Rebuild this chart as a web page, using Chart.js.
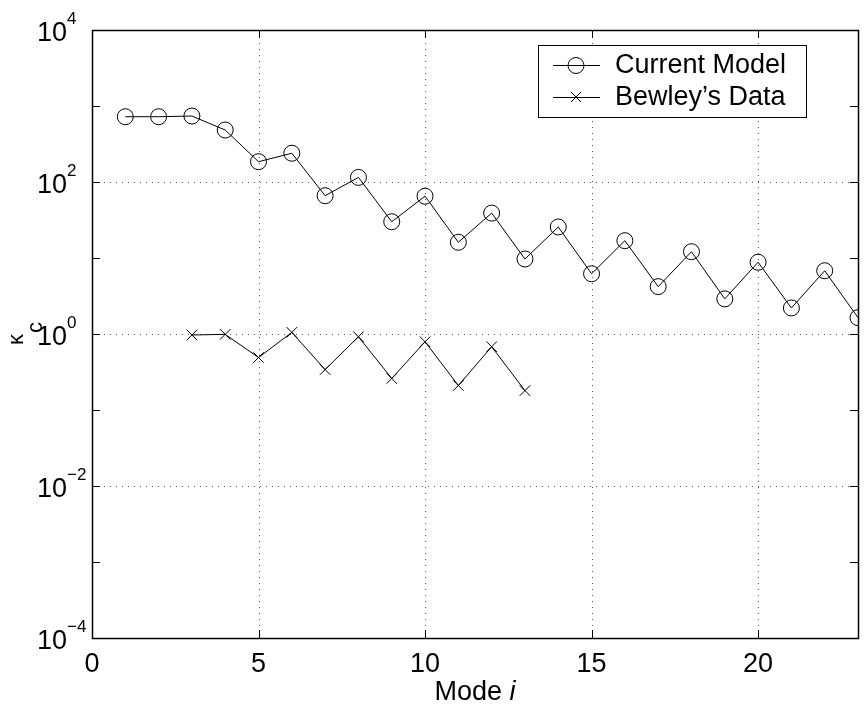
<!DOCTYPE html>
<html>
<head>
<meta charset="utf-8">
<script src="https://cdn.jsdelivr.net/npm/chart.js@4.4.1/dist/chart.umd.min.js"></script>
<style>
  html, body { margin: 0; padding: 0; background: #fff; }
  #wrap { width: 867px; height: 707px; }
</style>
</head>
<body>
<div id="wrap"><canvas id="chart" width="867" height="707"></canvas></div>
<script>
const modes = [1, 2, 3, 4, 5, 6, 7, 8, 9, 10, 11, 12, 13, 14, 15, 16, 17, 18, 19, 20, 21, 22, 23];
const currentModel = [723, 723, 738, 483, 185, 239, 66, 115, 30, 65, 16.1, 39, 9.7, 25.6, 6.2, 16.9, 4.2, 12.1, 2.9, 8.8, 2.2, 6.8, 1.64];
const bewleyModes = [3, 4, 5, 6, 7, 8, 9, 10, 11, 12, 13];
const bewleyData = [0.97, 0.99, 0.49, 1.05, 0.34, 0.92, 0.26, 0.79, 0.21, 0.68, 0.18];

const xTicks = [0, 5, 10, 15, 20];
const yTickExps = [-4, -3, -2, -1, 0, 1, 2, 3, 4];
const yLabelExps = [-4, -2, 0, 2, 4];
const seriesLabels = ['Current Model', 'Bewley\u2019s Data'];

const FONT = '"Liberation Sans", Arial, Helvetica, sans-serif';

const matlabAxes = {
  id: 'matlabAxes',
  beforeDatasetsDraw(chart) {
    const {ctx, chartArea: {left, right, top, bottom}, scales: {x, y}} = chart;
    ctx.save();
    ctx.strokeStyle = '#555';
    ctx.lineWidth = 1;
    ctx.setLineDash([1, 5]);
    xTicks.forEach(v => {
      if (v <= 0) return;
      const px = Math.round(x.getPixelForValue(v)) + 0.5;
      ctx.beginPath();
      ctx.moveTo(px, bottom);
      ctx.lineTo(px, top);
      ctx.stroke();
    });
    yLabelExps.forEach(e => {
      if (e === -4 || e === 4) return;
      const py = Math.round(y.getPixelForValue(Math.pow(10, e))) + 0.5;
      ctx.beginPath();
      ctx.moveTo(left, py);
      ctx.lineTo(right, py);
      ctx.stroke();
    });
    ctx.restore();
  },
  afterDatasetsDraw(chart) {
    const {ctx, chartArea: {left, right, top, bottom}, scales: {x, y}} = chart;
    ctx.save();
    ctx.setLineDash([]);
    ctx.strokeStyle = '#000';
    ctx.lineWidth = 1;

    // ticks pointing inwards on all four sides
    const tl = 8;
    ctx.beginPath();
    xTicks.forEach(v => {
      const px = Math.round(x.getPixelForValue(v)) + 0.5;
      ctx.moveTo(px, bottom); ctx.lineTo(px, bottom - tl);
      ctx.moveTo(px, top); ctx.lineTo(px, top + tl);
    });
    yTickExps.forEach(e => {
      const py = Math.round(y.getPixelForValue(Math.pow(10, e))) + 0.5;
      ctx.moveTo(left, py); ctx.lineTo(left + tl, py);
      ctx.moveTo(right, py); ctx.lineTo(right - tl, py);
    });
    ctx.stroke();

    // box
    ctx.lineWidth = 1.5;
    ctx.strokeRect(Math.round(left) + 0.5, Math.round(top) + 0.5, Math.round(right - left), Math.round(bottom - top));

    // x tick labels
    ctx.fillStyle = '#000';
    ctx.font = '27px ' + FONT;
    ctx.textAlign = 'center';
    ctx.textBaseline = 'alphabetic';
    xTicks.forEach(v => {
      ctx.fillText(String(v), x.getPixelForValue(v), bottom + 34);
    });

    // y tick labels 10^n
    yLabelExps.forEach(e => {
      const py = y.getPixelForValue(Math.pow(10, e));
      ctx.font = '27px ' + FONT;
      ctx.textAlign = 'right';
      ctx.fillText('10', 67, py + 11);
      ctx.font = '17px ' + FONT;
      ctx.textAlign = 'left';
      ctx.fillText(e < 0 ? '\u2212' + (-e) : String(e), 67, py - 6);
    });

    // x title: Mode i
    const cx = (left + right) / 2;
    ctx.font = '27px ' + FONT;
    const w1 = ctx.measureText('Mode ').width;
    ctx.font = 'italic 27px ' + FONT;
    const w2 = ctx.measureText('i').width;
    let sx = cx - (w1 + w2) / 2;
    ctx.textAlign = 'left';
    ctx.font = '27px ' + FONT;
    ctx.fillText('Mode ', sx, 700);
    ctx.font = 'italic 27px ' + FONT;
    ctx.fillText('i', sx + w1, 700);

    // y title: kappa_c rotated
    ctx.save();
    ctx.translate(0, 345);
    ctx.rotate(-Math.PI / 2);
    ctx.font = '22px ' + FONT;
    ctx.fillText('\u03ba', 0, 23);
    ctx.fillText('c', 12, 42);
    ctx.restore();

    // legend
    const bx = 538, by = 45, bw = 268, bh = 72;
    ctx.fillStyle = '#fff';
    ctx.fillRect(bx, by, bw, bh);
    ctx.lineWidth = 1;
    ctx.strokeStyle = '#000';
    ctx.strokeRect(bx + 0.5, by + 0.5, bw, bh);
    const rows = [65, 97];
    rows.forEach((ry, i) => {
      ctx.beginPath();
      ctx.moveTo(553, ry + 0.5);
      ctx.lineTo(600, ry + 0.5);
      ctx.stroke();
      ctx.beginPath();
      if (i === 0) {
        ctx.arc(576, ry + 0.5, 8, 0, Math.PI * 2);
      } else {
        ctx.moveTo(571, ry - 5); ctx.lineTo(581, ry + 5);
        ctx.moveTo(581, ry - 5); ctx.lineTo(571, ry + 5);
      }
      ctx.stroke();
      ctx.fillStyle = '#000';
      ctx.font = '27px ' + FONT;
      ctx.textAlign = 'left';
      ctx.textBaseline = 'middle';
      ctx.fillText(seriesLabels[i], 615, ry + 1);
      ctx.textBaseline = 'alphabetic';
    });
    ctx.restore();
  }
};

const whiteBg = {
  id: 'whiteBg',
  beforeDraw(chart) {
    const {ctx, width, height} = chart;
    ctx.save();
    ctx.fillStyle = '#fff';
    ctx.fillRect(0, 0, width, height);
    ctx.restore();
  }
};

new Chart(document.getElementById('chart'), {
  type: 'line',
  data: {
    datasets: [
      {
        label: seriesLabels[0],
        data: modes.map((m, i) => ({x: m, y: currentModel[i]})),
        borderColor: '#000',
        borderWidth: 1,
        pointStyle: 'circle',
        pointRadius: 8,
        pointBorderWidth: 1,
        pointBorderColor: '#000',
        pointBackgroundColor: 'rgba(0,0,0,0)',
        tension: 0,
        clip: 0
      },
      {
        label: seriesLabels[1],
        data: bewleyModes.map((m, i) => ({x: m, y: bewleyData[i]})),
        borderColor: '#000',
        borderWidth: 1,
        pointStyle: 'crossRot',
        pointRadius: 7.5,
        pointBorderWidth: 1,
        pointBorderColor: '#000',
        tension: 0,
        clip: 0
      }
    ]
  },
  options: {
    responsive: false,
    animation: false,
    layout: {padding: {top: 30, right: 5, left: 0, bottom: 0}},
    scales: {
      x: {
        type: 'linear',
        min: 0,
        max: 23,
        ticks: {display: false},
        grid: {display: false},
        border: {display: false},
        afterFit(scale) { scale.height = 69; }
      },
      y: {
        type: 'logarithmic',
        min: 1e-4,
        max: 1e4,
        ticks: {display: false},
        grid: {display: false},
        border: {display: false},
        afterFit(scale) { scale.width = 92; }
      }
    },
    plugins: {
      legend: {display: false},
      tooltip: {enabled: false}
    }
  },
  plugins: [whiteBg, matlabAxes]
});
</script>
</body>
</html>
